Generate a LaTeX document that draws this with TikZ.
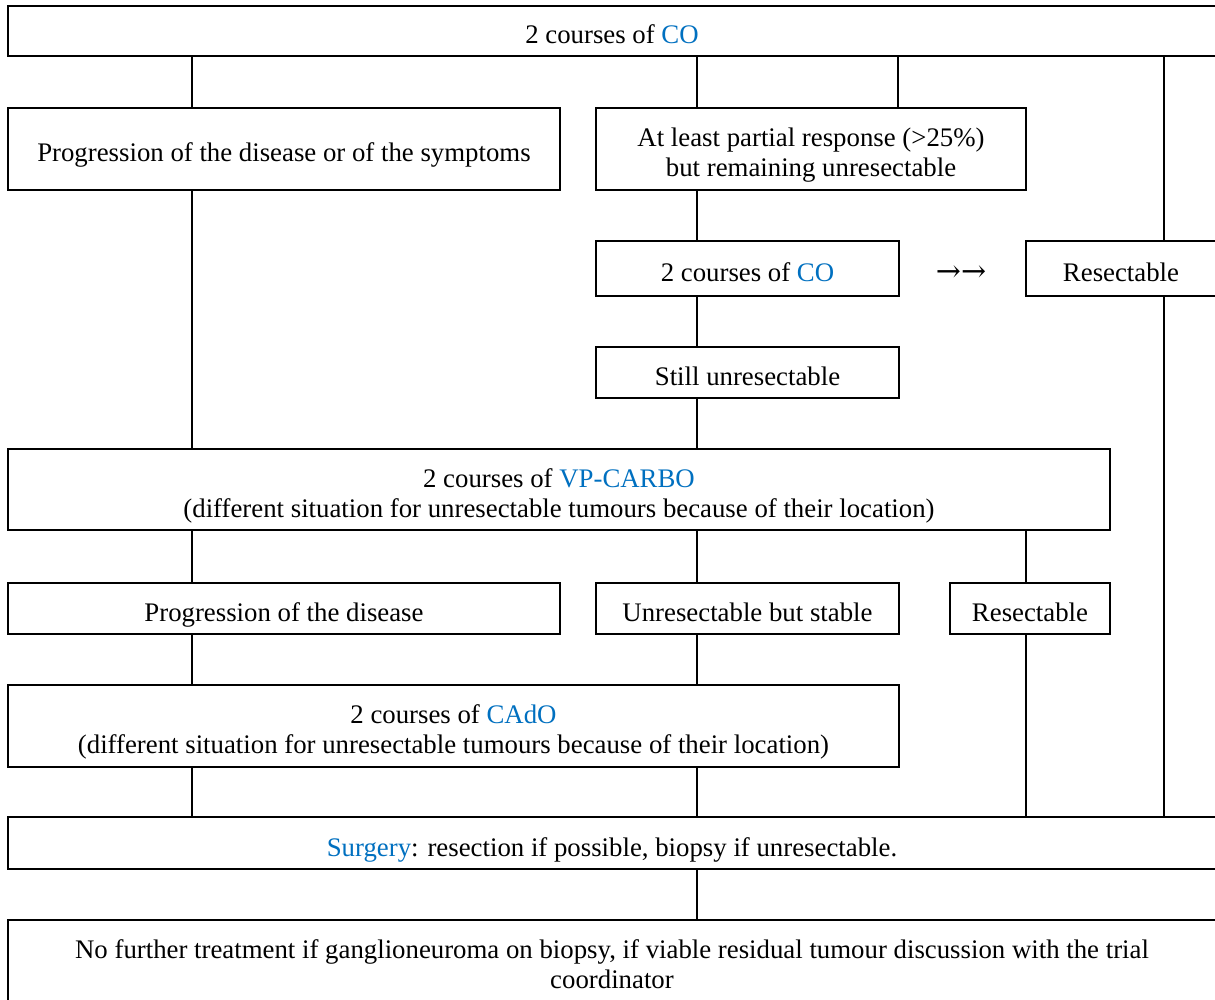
\documentclass[tikz,border=0pt]{standalone}
\usepackage{fontspec}
\setmainfont{Liberation Serif}
\newfontfamily\arrowfont{DejaVu Serif}
\definecolor{linkblue}{RGB}{0,112,192}
\begin{document}
\begin{tikzpicture}[x=0.5pt,y=-0.5pt,
  box/.style={draw=black,line width=1pt,align=center,inner sep=0pt,text height=13pt,text depth=0pt,font=\fontsize{13.4pt}{15pt}\selectfont},
  twoline/.style={text height=27.5pt,text depth=0pt},
  conn/.style={draw=black,line width=0.9pt},
  plain/.style={inner sep=0pt,font=\fontsize{13.4pt}{15pt}\selectfont}]
\useasboundingbox (0,0) rectangle (1215,1000);
\fill[white] (0,0) rectangle (1215,1000);
% nodes
\node[box,minimum width=604pt,minimum height=25pt] (top) at (612,31) {2 courses of \textcolor{linkblue}{CO}};
\node[box,minimum width=276pt,minimum height=41pt] (prog1) at (284,149) {Progression of the disease or of the symptoms};
\node[box,twoline,minimum width=215pt,minimum height=41pt] (partial) at (811,149) {At least partial response (>25\%)\\but remaining unresectable};
\node[box,minimum width=151.5pt,minimum height=27.5pt] (co2) at (747.5,268.5) {2 courses of \textcolor{linkblue}{CO}};
\node[plain,font=\arrowfont\fontsize{15pt}{15pt}\selectfont] (arr) at (961,274) {→→};
\node[box,minimum width=95pt,minimum height=27.5pt] (res1) at (1121,268.5) {Resectable};
\node[box,minimum width=151.5pt,minimum height=25.5pt] (still) at (747.5,372.5) {Still unresectable};
\node[box,twoline,minimum width=551pt,minimum height=40.5pt] (vp) at (559,489.5) {2 courses of \textcolor{linkblue}{VP-CARBO}\\(different situation for unresectable tumours because of their location)};
\node[box,minimum width=276pt,minimum height=25.5pt] (prog2) at (284,608.5) {Progression of the disease};
\node[box,minimum width=151.5pt,minimum height=25.5pt] (stable) at (747.5,608.5) {Unresectable but stable};
\node[box,minimum width=80pt,minimum height=25.5pt] (res2) at (1030,608.5) {Resectable};
\node[box,twoline,minimum width=445.5pt,minimum height=41pt] (cado) at (453.5,726) {2 courses of \textcolor{linkblue}{CAdO}\\(different situation for unresectable tumours because of their location)};
\node[box,minimum width=604pt,minimum height=26pt] (surg) at (612,843) {\textcolor{linkblue}{Surgery}: resection if possible, biopsy if unresectable.};
\node[box,text height=23pt,minimum width=604pt,minimum height=45pt] (final) at (612,965) {No further treatment if ganglioneuroma on biopsy, if viable residual tumour discussion with the trial\\coordinator};
% column coordinates
\coordinate (cA) at (192,0);
\coordinate (cB) at (697,0);
\coordinate (cC) at (898,0);
\coordinate (cD) at (1164,0);
\coordinate (cE) at (1026,0);
% connectors
\draw[conn] (top.south -| cA) -- (prog1.north -| cA);
\draw[conn] (prog1.south -| cA) -- (vp.north -| cA);
\draw[conn] (vp.south -| cA) -- (prog2.north -| cA);
\draw[conn] (prog2.south -| cA) -- (cado.north -| cA);
\draw[conn] (cado.south -| cA) -- (surg.north -| cA);
\draw[conn] (top.south -| cB) -- (partial.north -| cB);
\draw[conn] (partial.south -| cB) -- (co2.north -| cB);
\draw[conn] (co2.south -| cB) -- (still.north -| cB);
\draw[conn] (still.south -| cB) -- (vp.north -| cB);
\draw[conn] (vp.south -| cB) -- (stable.north -| cB);
\draw[conn] (stable.south -| cB) -- (cado.north -| cB);
\draw[conn] (cado.south -| cB) -- (surg.north -| cB);
\draw[conn] (surg.south -| cB) -- (final.north -| cB);
\draw[conn] (top.south -| cC) -- (partial.north -| cC);
\draw[conn] (top.south -| cD) -- (res1.north -| cD);
\draw[conn] (res1.south -| cD) -- (surg.north -| cD);
\draw[conn] (vp.south -| cE) -- (res2.north -| cE);
\draw[conn] (res2.south -| cE) -- (surg.north -| cE);
\end{tikzpicture}
\end{document}
